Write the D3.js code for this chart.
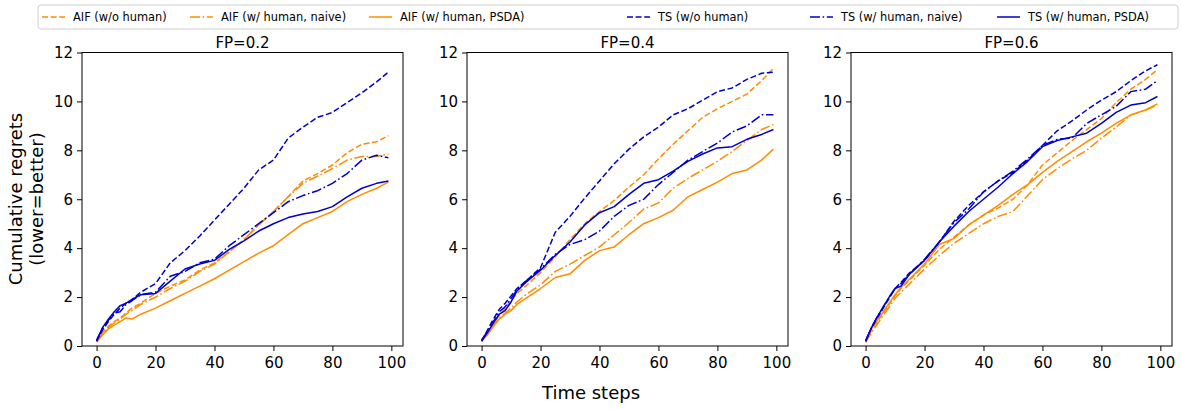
<!DOCTYPE html>
<html><head><meta charset="utf-8">
<script src="https://cdn.jsdelivr.net/npm/d3@7"></script>
<style>body{margin:0;background:#fff;} svg{display:block;font-family:"DejaVu Sans",sans-serif;}</style>
</head><body>
<svg id="c" width="1181" height="410"></svg>
<script>
const steps = [0,2,4,6,8,10,12,15,20,25,30,35,40,45,50,55,60,65,70,75,80,85,90,95,99];
const panelTitles = ["FP=0.2","FP=0.4","FP=0.6"];
const seriesNames = ["AIF (w/o human)","AIF (w/ human, naive)","AIF (w/ human, PSDA)","TS (w/o human)","TS (w/ human, naive)","TS (w/ human, PSDA)"];
const xTicks = [0,20,40,60,80,100];
const yTicks = [0,2,4,6,8,10,12];

// FP=0.2
const p1_aif_wo    = [0.2,0.55,0.8,1.0,1.15,1.35,1.55,1.75,2.15,2.45,2.7,3.1,3.4,3.85,4.35,4.95,5.5,6.1,6.75,7.05,7.4,7.9,8.25,8.35,8.6];
const p1_aif_naive = [0.2,0.5,0.75,0.95,1.1,1.3,1.45,1.7,2.0,2.35,2.65,3.05,3.35,3.85,4.35,4.95,5.5,6.1,6.65,6.95,7.25,7.6,7.75,7.75,7.85];
const p1_aif_psda  = [0.15,0.45,0.7,0.85,1.0,1.15,1.1,1.3,1.55,1.85,2.15,2.45,2.75,3.1,3.45,3.8,4.1,4.55,5.0,5.25,5.5,5.9,6.2,6.45,6.7];
const p1_ts_wo     = [0.2,0.65,1.0,1.3,1.55,1.75,1.9,2.2,2.55,3.4,3.9,4.5,5.15,5.8,6.45,7.2,7.6,8.5,8.95,9.35,9.55,9.95,10.35,10.8,11.2];
const p1_ts_naive  = [0.25,0.7,1.05,1.35,1.4,1.7,1.85,2.1,2.2,2.85,3.05,3.4,3.55,4.1,4.55,5.0,5.45,5.9,6.15,6.35,6.65,7.05,7.6,7.8,7.7];
const p1_ts_psda   = [0.2,0.75,1.1,1.4,1.65,1.75,1.9,2.1,2.15,2.65,3.15,3.35,3.5,3.95,4.3,4.7,5.0,5.25,5.4,5.5,5.7,6.1,6.45,6.65,6.75];
// FP=0.4
const p2_aif_wo    = [0.2,0.55,0.9,1.25,1.55,1.85,2.15,2.45,3.0,3.65,4.35,5.0,5.5,5.95,6.5,7.0,7.65,8.25,8.8,9.35,9.7,10.0,10.3,10.85,11.35];
const p2_aif_naive = [0.2,0.5,0.85,1.15,1.35,1.55,1.8,2.1,2.5,3.05,3.35,3.7,4.05,4.55,5.05,5.6,5.85,6.45,6.85,7.2,7.55,7.95,8.4,8.85,9.05];
const p2_aif_psda  = [0.2,0.45,0.8,1.1,1.3,1.45,1.7,1.95,2.35,2.8,2.95,3.5,3.9,4.05,4.55,5.0,5.25,5.55,6.1,6.4,6.7,7.05,7.2,7.6,8.05];
const p2_ts_wo     = [0.2,0.65,1.1,1.5,1.75,2.05,2.35,2.65,3.2,4.65,5.3,6.05,6.75,7.45,8.05,8.55,8.95,9.45,9.7,10.05,10.4,10.55,10.9,11.15,11.2];
const p2_ts_naive  = [0.25,0.6,1.0,1.4,1.6,1.95,2.3,2.65,3.15,3.75,4.15,4.35,4.7,5.3,5.75,6.0,6.6,7.1,7.6,7.95,8.3,8.75,9.0,9.45,9.45];
const p2_ts_psda   = [0.2,0.55,0.95,1.3,1.45,1.8,2.25,2.6,3.1,3.7,4.25,4.95,5.45,5.7,6.2,6.65,6.8,7.15,7.55,7.85,8.1,8.15,8.45,8.65,8.85];
// FP=0.6
const p3_aif_wo    = [0.15,0.65,1.0,1.35,1.7,2.05,2.35,2.7,3.3,3.95,4.45,4.95,5.35,5.65,6.0,6.6,7.4,7.9,8.4,8.85,9.3,9.95,10.5,10.9,11.3];
const p3_aif_naive = [0.15,0.55,0.9,1.25,1.6,1.95,2.2,2.55,3.15,3.7,4.2,4.6,5.0,5.3,5.5,6.15,6.8,7.25,7.65,8.0,8.5,8.95,9.45,9.65,9.85];
const p3_aif_psda  = [0.2,0.7,1.05,1.4,1.75,2.1,2.4,2.75,3.35,4.15,4.4,4.95,5.35,5.75,6.2,6.6,7.1,7.55,7.95,8.35,8.7,9.1,9.45,9.65,9.9];
const p3_ts_wo     = [0.2,0.75,1.15,1.55,1.95,2.35,2.6,3.0,3.5,4.25,5.1,5.75,6.3,6.75,7.1,7.6,8.2,8.8,9.2,9.65,10.05,10.4,10.85,11.25,11.5];
const p3_ts_naive  = [0.2,0.75,1.2,1.6,2.0,2.35,2.55,2.95,3.55,4.25,5.05,5.6,6.3,6.75,7.15,7.65,8.2,8.45,8.5,9.1,9.45,9.8,10.4,10.5,10.85];
const p3_ts_psda   = [0.2,0.75,1.2,1.6,2.0,2.35,2.45,2.95,3.5,4.25,4.9,5.5,6.0,6.5,7.05,7.55,8.15,8.4,8.55,8.7,9.1,9.55,9.85,9.95,10.2];

const panels = [
  [p1_aif_wo,p1_aif_naive,p1_aif_psda,p1_ts_wo,p1_ts_naive,p1_ts_psda],
  [p2_aif_wo,p2_aif_naive,p2_aif_psda,p2_ts_wo,p2_ts_naive,p2_ts_psda],
  [p3_aif_wo,p3_aif_naive,p3_aif_psda,p3_ts_wo,p3_ts_naive,p3_ts_psda]
];

const ORANGE = "#ff8c00", BLUE = "#0000cd";
const colors = [ORANGE,ORANGE,ORANGE,BLUE,BLUE,BLUE];
const dashes = ["6,2.6","10,2.6,1.6,2.6",null,"6,2.6","10,2.6,1.6,2.6",null];
const svg = d3.select("#c");
const panelLeft = [82, 467, 851], panelW = 321, plotTop = 52.5, plotBottom = 346;

panels.forEach((ser, pi) => {
  const g = svg.append("g");
  const x = d3.scaleLinear().domain([-4.95, 103.95]).range([panelLeft[pi], panelLeft[pi]+panelW]);
  const y = d3.scaleLinear().domain([0, 12]).range([plotBottom, plotTop]);
  const line = d3.line().x((d,i)=>x(steps[i])).y(d=>y(d));
  const clipId = "clip"+pi;
  svg.append("clipPath").attr("id",clipId).append("rect")
    .attr("x",x.range()[0]).attr("y",plotTop).attr("width",panelW).attr("height",plotBottom-plotTop);
  const lg = g.append("g").attr("clip-path",`url(#${clipId})`);
  ser.forEach((vals, si) => {
    lg.append("path").attr("d", line(vals)).attr("fill","none")
      .attr("stroke", colors[si]).attr("stroke-width",1.5)
      .attr("stroke-dasharray", dashes[si]).attr("stroke-linejoin","round");
  });
  const xa = g.append("g").attr("transform",`translate(0,${plotBottom})`)
    .call(d3.axisBottom(x).tickValues(xTicks).tickSize(5).tickPadding(4).tickFormat(d3.format("d")));
  const ya = g.append("g").attr("transform",`translate(${panelLeft[pi]},0)`)
    .call(d3.axisLeft(y).tickValues(yTicks).tickSize(5).tickPadding(4).tickFormat(d3.format("d")));
  [xa,ya].forEach(a=>{
    a.select(".domain").remove();
    a.selectAll("text").attr("font-size",15).attr("fill","#000").attr("font-family","DejaVu Sans");
    a.selectAll("line").attr("stroke","#000").attr("stroke-width",1);
  });
  xa.selectAll("text").attr("dy","0.85em");
  g.append("rect").attr("x",x.range()[0]).attr("y",plotTop).attr("width",panelW).attr("height",plotBottom-plotTop)
    .attr("fill","none").attr("stroke","#000").attr("stroke-width",1);
  g.append("text").attr("x",x.range()[0]+panelW/2).attr("y",plotTop-5).attr("text-anchor","middle")
    .attr("font-size",15).text(panelTitles[pi]);
});

svg.append("text").attr("x",591).attr("y",399).attr("text-anchor","middle").attr("font-size",18).text("Time steps");
const yl = svg.append("text").attr("transform","translate(24,199) rotate(-90)").attr("text-anchor","middle").attr("font-size",18);
yl.append("tspan").attr("x",0).attr("dy","-0.1em").text("Cumulative regrets");
yl.append("tspan").attr("x",0).attr("dy","1.15em").text("(lower=better)");

const leg = svg.append("g");
leg.append("rect").attr("x",38).attr("y",5).attr("width",1140).attr("height",24).attr("rx",3)
  .attr("fill","#fff").attr("stroke","#d0d0d0").attr("stroke-width",1);
const legX = [42, 190, 369, 627, 810, 997];
seriesNames.forEach((n,i)=>{
  leg.append("line").attr("x1",legX[i]).attr("x2",legX[i]+23).attr("y1",17).attr("y2",17)
    .attr("stroke",colors[i]).attr("stroke-width",1.5).attr("stroke-dasharray",dashes[i]);
  leg.append("text").attr("x",legX[i]+31).attr("y",21).attr("font-size",11.4).text(n);
});
</script>
</body></html>
